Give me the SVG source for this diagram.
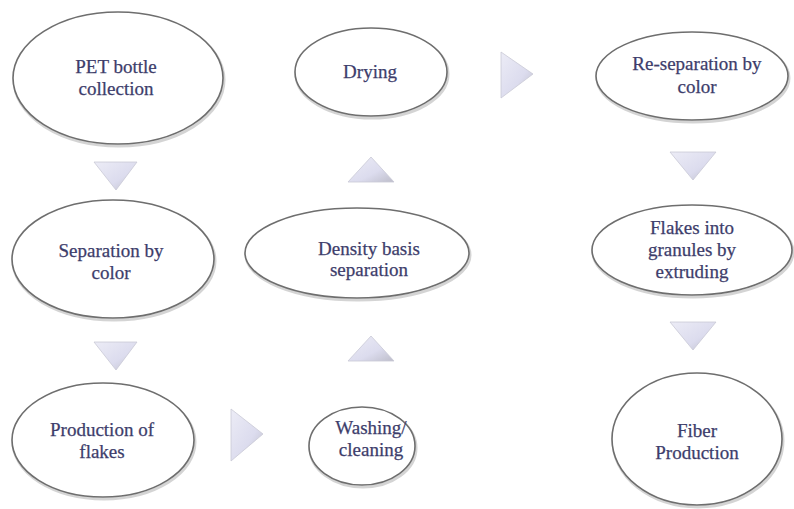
<svg xmlns="http://www.w3.org/2000/svg" width="794" height="509" viewBox="0 0 794 509">
<style>
.node ellipse.shape{fill:#ffffff;stroke:#6e6e6e;stroke-width:1.6}
.node ellipse.shadow{fill:none;stroke:#b8b8b8;stroke-width:3;opacity:0.6}
.node text{font-family:"Liberation Serif","DejaVu Serif",serif;font-size:19px;fill:#3d3d6b;stroke:#3d3d6b;stroke-width:0.25;text-anchor:middle}
.arrow{fill:url(#ag);stroke:#c9c9d6;stroke-width:0.8}
</style>
<defs>
<linearGradient id="ag" x1="0" y1="0" x2="1" y2="1">
<stop offset="0" stop-color="#ececf6"/>
<stop offset="0.6" stop-color="#dcdcee"/>
<stop offset="1" stop-color="#bdbdca"/>
</linearGradient>
</defs>
<rect width="794" height="509" fill="#ffffff"/>
<g id="connectors">
<path class="arrow" d="M94,162 L137,162 L116,190 Z"/>
<path class="arrow" d="M94,342 L137,342 L116,370 Z"/>
<path class="arrow" d="M231,409 L263,434 L231,461 Z"/>
<path class="arrow" d="M348,361 L394,361 L371,336 Z"/>
<path class="arrow" d="M348,182 L394,182 L371,157 Z"/>
<path class="arrow" d="M501,52 L533,74 L501,98 Z"/>
<path class="arrow" d="M670,152 L716,152 L693,180 Z"/>
<path class="arrow" d="M670,322 L716,322 L693,350 Z"/>
</g>
<g id="n1" class="node">
<ellipse class="shadow" cx="119" cy="80" rx="105" ry="66"/>
<ellipse class="shape" cx="118" cy="78" rx="105" ry="66"/>
<text x="116" y="73">PET bottle</text>
<text x="116" y="95">collection</text>
</g>
<g id="n2" class="node">
<ellipse class="shadow" cx="372" cy="74" rx="76" ry="44"/>
<ellipse class="shape" cx="371" cy="72" rx="76" ry="44"/>
<text x="370" y="78">Drying</text>
</g>
<g id="n3" class="node">
<ellipse class="shadow" cx="693" cy="78" rx="96" ry="44"/>
<ellipse class="shape" cx="692" cy="76" rx="96" ry="44"/>
<text x="697" y="70">Re-separation by</text>
<text x="697" y="93">color</text>
</g>
<g id="n4" class="node">
<ellipse class="shadow" cx="114" cy="261" rx="101" ry="59"/>
<ellipse class="shape" cx="113" cy="259" rx="101" ry="59"/>
<text x="111" y="257">Separation by</text>
<text x="111" y="279">color</text>
</g>
<g id="n5" class="node">
<ellipse class="shadow" cx="358" cy="255" rx="112" ry="45"/>
<ellipse class="shape" cx="357" cy="253" rx="112" ry="45"/>
<text x="369" y="255">Density basis</text>
<text x="369" y="276">separation</text>
</g>
<g id="n6" class="node">
<ellipse class="shadow" cx="693" cy="252" rx="100" ry="45"/>
<ellipse class="shape" cx="692" cy="250" rx="100" ry="45"/>
<text x="692" y="234">Flakes into</text>
<text x="692" y="256">granules by</text>
<text x="692" y="278">extruding</text>
</g>
<g id="n7" class="node">
<ellipse class="shadow" cx="104" cy="442" rx="91" ry="57"/>
<ellipse class="shape" cx="103" cy="440" rx="91" ry="57"/>
<text x="102" y="436">Production of</text>
<text x="102" y="458">flakes</text>
</g>
<g id="n8" class="node">
<ellipse class="shadow" cx="363" cy="448" rx="53" ry="39"/>
<ellipse class="shape" cx="362" cy="446" rx="53" ry="39"/>
<text x="371" y="434">Washing/</text>
<text x="371" y="456">cleaning</text>
</g>
<g id="n9" class="node">
<ellipse class="shadow" cx="698" cy="441" rx="85" ry="66"/>
<ellipse class="shape" cx="697" cy="439" rx="85" ry="66"/>
<text x="697" y="437">Fiber</text>
<text x="697" y="459">Production</text>
</g>
</svg>
